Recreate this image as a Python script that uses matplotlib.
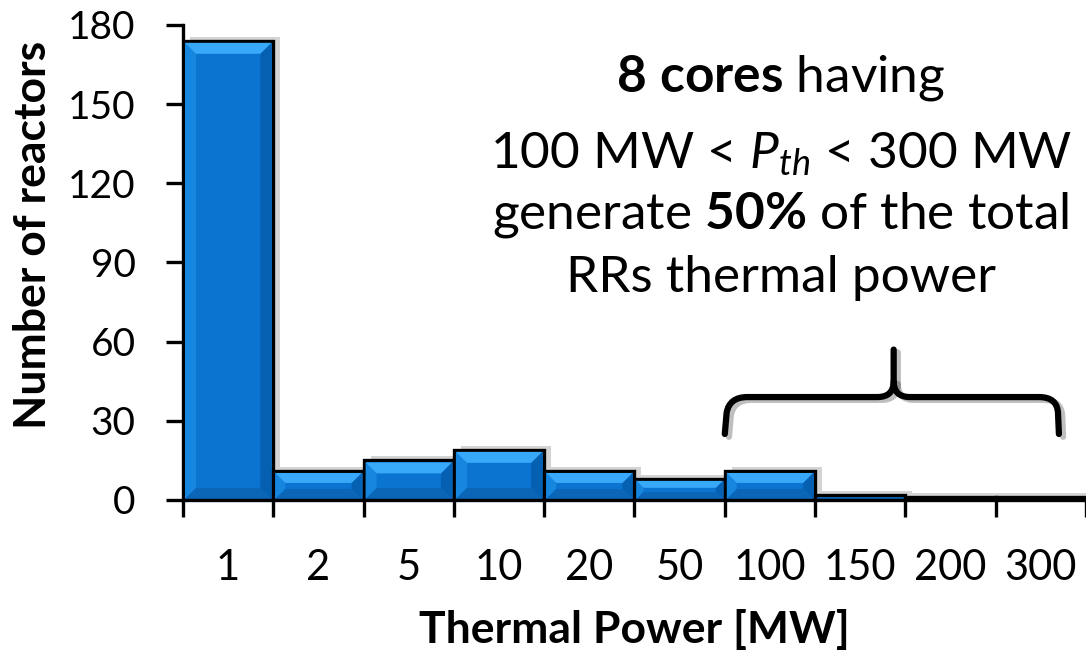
import matplotlib
matplotlib.use("Agg")
import matplotlib.pyplot as plt
import matplotlib.patheffects as pe
from matplotlib.patches import Polygon, PathPatch
from matplotlib.path import Path
from matplotlib.transforms import IdentityTransform

plt.rcParams["font.family"] = ["Lato", "DejaVu Sans"]
plt.rcParams["mathtext.fontset"] = "custom"
plt.rcParams["mathtext.rm"] = "Lato"
plt.rcParams["mathtext.it"] = "Lato:italic"
plt.rcParams["mathtext.bf"] = "Lato:bold"

# Data
power_bins = ["1", "2", "5", "10", "20", "50", "100", "150", "200", "300"]
n_reactors = [174, 11, 15, 19, 11, 8, 11, 2, 1, 1]
y_ticks = [0, 30, 60, 90, 120, 150, 180]

# brace marking the 100-300 MW group (data units)
brace_x0, brace_x1, brace_tip = 6.0, 9.7, 7.87
brace_y0, brace_y, brace_ytip = 25, 39, 57

face = "#0a74d0"
light = "#38a8f8"
dark = "#0560b2"

fig = plt.figure(figsize=(10.86, 6.5), dpi=100)
ax = fig.add_axes([0.1685, 0.2308, 0.8315, 0.7308])

xs = list(range(len(power_bins)))
bars = ax.bar(xs, n_reactors, width=1.0, align="edge", color=face,
              edgecolor="black", linewidth=2.4, zorder=3)
for b in bars:
    b.set_path_effects([pe.SimplePatchShadow(offset=(5, 3), shadow_rgbFace="#666666", alpha=0.28),
                        pe.Normal()])

ax.set_xlim(0, len(power_bins))
ax.set_ylim(0, 180)

# bevel effect on each bar, computed from the bar geometry in pixels
fig.canvas.draw()
for b in bars:
    (x0, y0), (x1, y1) = ax.transData.transform([(b.get_x(), 0), (b.get_x() + b.get_width(), b.get_height())])
    x0 += 2; x1 -= 2; y1 -= 2; y0 += 1
    h = y1 - y0
    if h < 6:
        continue
    d = min(11, h / 2.6)
    top = [(x0, y1), (x1, y1), (x1 - d, y1 - d), (x0 + d, y1 - d)]
    left = [(x0, y0), (x0, y1), (x0 + d, y1 - d), (x0 + d, y0 + d)]
    right = [(x1, y0), (x1, y1), (x1 - d, y1 - d), (x1 - d, y0 + d)]
    bottom = [(x0, y0), (x1, y0), (x1 - d, y0 + d), (x0 + d, y0 + d)]
    for pts, col in [(left, "#1786de"), (right, dark), (bottom, "#0b66b8"), (top, light)]:
        ax.add_patch(Polygon(pts, closed=True, facecolor=col, edgecolor="none",
                             transform=IdentityTransform(), zorder=4))

ax.spines["top"].set_visible(False)
ax.spines["right"].set_visible(False)
ax.spines["left"].set_linewidth(2.4)
ax.spines["bottom"].set_linewidth(2.4)
ax.spines["bottom"].set_zorder(5)

ax.set_yticks(y_ticks)
ax.tick_params(axis="y", direction="out", length=12, width=2.4, labelsize=28, pad=22)
ax.set_xticks(range(len(power_bins) + 1))
ax.set_xticklabels([])
ax.tick_params(axis="x", which="major", direction="out", length=12, width=2.4)
ax.set_xticks([i + 0.5 for i in xs], minor=True)
ax.set_xticklabels(power_bins, minor=True)
ax.tick_params(axis="x", which="minor", length=0, labelsize=30, pad=35)

ax.set_xlabel("Thermal Power [MW]", fontsize=32, fontweight="bold")
ax.xaxis.set_label_coords(0.5, -0.301)
ax.xaxis.label.set_va("baseline")
ax.set_ylabel("Number of reactors", fontsize=32, fontweight="bold")
ax.yaxis.set_label_coords(-0.166, 0.558)
ax.yaxis.label.set_va("center")

# curly brace
verts = [(brace_x0, brace_y0), (brace_x0 + 0.02, brace_y - 6), (brace_x0 + 0.05, brace_y),
         (brace_x0 + 0.25, brace_y), (brace_tip - 0.18, brace_y),
         (brace_tip, brace_y), (brace_tip, brace_y + 6), (brace_tip, brace_ytip)]
codes = [Path.MOVETO, Path.LINETO, Path.CURVE3, Path.CURVE3, Path.LINETO,
         Path.CURVE3, Path.CURVE3, Path.LINETO]
verts2 = [(brace_tip, brace_y + 6), (brace_tip, brace_y), (brace_tip + 0.18, brace_y),
          (brace_x1 - 0.22, brace_y), (brace_x1 - 0.02, brace_y), (brace_x1 - 0.01, brace_y - 6),
          (brace_x1, brace_y0)]
codes2 = [Path.MOVETO, Path.CURVE3, Path.CURVE3, Path.LINETO, Path.CURVE3, Path.CURVE3, Path.LINETO]
for v, c in [(verts, codes), (verts2, codes2)]:
    ax.add_patch(PathPatch(Path(v, c), facecolor="none", edgecolor="black", linewidth=4.5,
                           capstyle="round", joinstyle="round", zorder=6,
                           path_effects=[pe.SimpleLineShadow(offset=(3, -2), alpha=0.25), pe.Normal()]))

# annotation text
tx = 6.62
ax.text(tx, 160, r"$\mathbf{8\ cores}$ having", fontsize=37, ha="center", va="center")
ax.text(tx, 131, r"100 MW < $P_{th}$ < 300 MW", fontsize=37, ha="center", va="center")
ax.text(tx, 108, r"generate $\mathbf{50\%}$ of the total", fontsize=37, ha="center", va="center")
ax.text(tx, 84, "RRs thermal power", fontsize=37, ha="center", va="center")

fig.savefig("out.png", dpi=100)
